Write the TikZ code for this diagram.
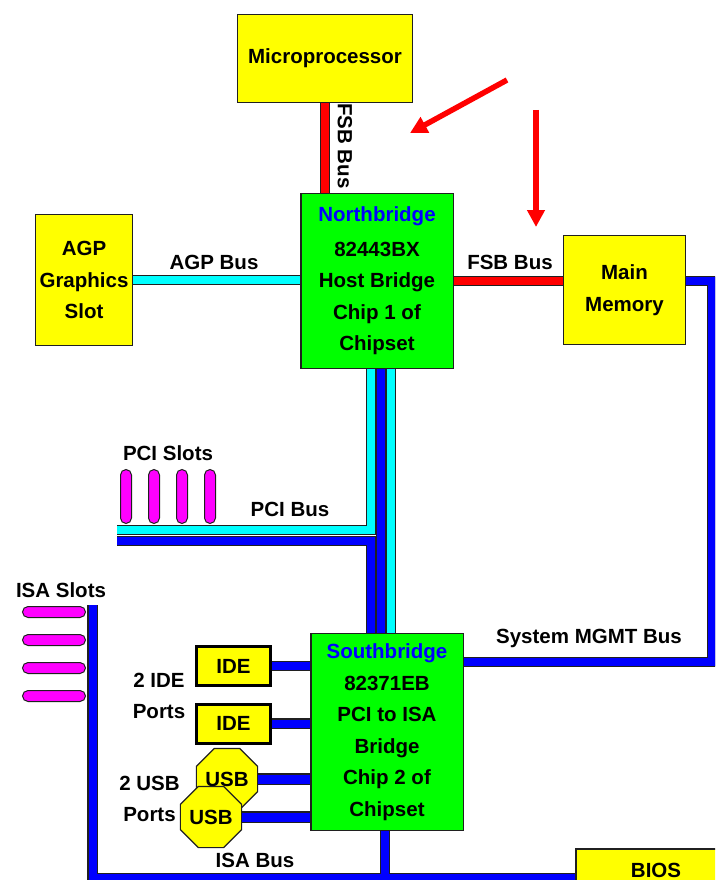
\documentclass[tikz,border=0pt]{standalone}
\usepackage{fontspec}
\setmainfont{Liberation Sans}
\usetikzlibrary{positioning,arrows.meta,shapes.geometric}
\definecolor{ChipGreen}{HTML}{00FF00}
\definecolor{PartYellow}{HTML}{FFFF00}
\definecolor{BusCyan}{HTML}{00FFFF}
\definecolor{BusBlue}{HTML}{0000FF}
\definecolor{BusRed}{HTML}{FF0000}
\definecolor{SlotPink}{HTML}{FF00FF}
\definecolor{Edge}{HTML}{202020}

\begin{document}
\begin{tikzpicture}[x=1pt,y=-1pt,
  every node/.style={align=center,font=\fontsize{20.5}{31.5}\selectfont\bfseries},
  part/.style={draw=Edge,line width=1.5pt,fill=PartYellow,inner sep=0pt},
  chip/.style={draw=Edge,line width=1.5pt,fill=ChipGreen,inner sep=0pt,minimum width=152.5pt},
  port/.style={draw=black,line width=3pt,fill=PartYellow,minimum width=74pt,minimum height=39pt,inner sep=0pt},
  usbport/.style={regular polygon,regular polygon sides=8,draw=Edge,line width=1.2pt,fill=PartYellow,minimum size=54pt,inner sep=0pt},
  bus/.style={draw=Edge,line width=1.2pt,double distance=8pt},
  pcislot/.style={draw=Edge,line width=1pt,fill=SlotPink,rounded corners=5.5pt,minimum width=11pt,minimum height=54pt,inner sep=0pt},
  isaslot/.style={draw=Edge,line width=1pt,fill=SlotPink,rounded corners=5.5pt,minimum width=63pt,minimum height=11pt,inner sep=0pt},
  hint/.style={BusRed,line width=5.5pt,-{Triangle[length=17pt,width=17pt]}}]
\useasboundingbox (0,0) rectangle (715,880);
\clip (0,0) rectangle (715,880);

\node[part,minimum width=175pt,minimum height=88pt] (cpu) at (325,58.5) {Microprocessor};
\node[chip,minimum height=175pt] (nb) at (377,281) {\textcolor{BusBlue}{Northbridge}\\[3pt]82443BX\\Host Bridge\\Chip 1 of\\Chipset};
\node[part,minimum width=97pt,minimum height=131pt] (agp) at (84,280) {AGP\\Graphics\\Slot};
\node[part,minimum width=122pt,minimum height=109pt] (mem) at (624.5,290) {Main\\Memory};
\node[chip,minimum height=197pt] (sb) at (387,732) {\textcolor{BusBlue}{Southbridge}\\82371EB\\PCI to ISA\\Bridge\\Chip 2 of\\Chipset};
\node[port] (ide1) at (233.5,666) {IDE};
\node[port,below=15.5pt of ide1] (ide2) {IDE};
\node[usbport] (usb1) at (227,779) {USB};
\node[usbport] (usb2) at (211,817) {USB};
\node[part,minimum width=160pt,minimum height=42pt] (bios) at (656,870) {BIOS};

\foreach \i/\x in {1/126,2/154,3/182,4/210}
  \node[pcislot] (pci\i) at (\x,496.5) {};
\foreach \i/\y in {1/612,2/640,3/668,4/696}
  \node[isaslot] (isa\i) at (54,\y) {};

\node[rotate=-90] (fsbv) at (345,146) {FSB Bus};
\node (fsbh) at (510,262) {FSB Bus};
\node (agpbus) at (214,262) {AGP Bus};
\node (pcislots) at (168,453) {PCI Slots};
\node (pcibus) at (290,509) {PCI Bus};
\node (isaslots) at (61,590) {ISA Slots};
\node (isabus) at (255,860) {ISA Bus};
\node (mgmtbus) at (589,638) {System MGMT Bus};
\node (ideports) at (159,696) {2 IDE\\Ports};
\node (usbports) at (149.5,799) {2 USB\\Ports};

\draw[bus,double=BusRed] (cpu.south) -- (cpu.south |- nb.north);
\draw[bus,double=BusCyan] (agp.east) -- (agp.east -| nb.west);
\draw[bus,double=BusRed] (nb.east) -- (nb.east -| mem.west);
\coordinate (mgmt) at (712,662);
\draw[bus,double=BusBlue] (mem.east |- nb.east) -| (mgmt) -- (mgmt -| sb.east);

\coordinate (pciA) at ([xshift=-6pt]nb.south);
\coordinate (pciB) at ([xshift=4pt]nb.south);
\coordinate (pciC) at ([xshift=14pt]nb.south);
\coordinate (pcileft) at (117,530);
\coordinate (pcilow) at (117,541);
\draw[bus,double=BusBlue] (pciB) -- (pciB |- sb.north);
\draw[bus,double=BusCyan] (pciC) -- (pciC |- sb.north);
\draw[bus,double=BusCyan] (pciA) |- (pcileft);
\draw[bus,double=BusBlue] (pcilow) -| (pciA |- sb.north);

\draw[bus,double=BusBlue] (ide1.east) -- (ide1.east -| sb.west);
\draw[bus,double=BusBlue] (ide2.east) -- (ide2.east -| sb.west);
\draw[bus,double=BusBlue,double distance=9pt] (usb1.east) -- (usb1.east -| sb.west);
\draw[bus,double=BusBlue,double distance=9pt] (usb2.east) -- (usb2.east -| sb.west);

\coordinate (isatop) at (92.5,605);
\coordinate (isacorner) at (92.5,878);
\coordinate (sbisa) at ([xshift=-2pt]sb.south);
\coordinate (isajoin) at (385,874);
\draw[bus,double=BusBlue] (isatop) -- (isacorner) -- (isacorner -| bios.west);
\draw[bus,double=BusBlue] (sbisa) -- (sbisa |- isajoin);

\coordinate (hint1s) at (507,80);
\coordinate (hint1e) at (410,133);
\coordinate (hint2s) at (536,110);
\coordinate (hint2e) at (536,227);
\draw[hint] (hint1s) -- (hint1e);
\draw[hint] (hint2s) -- (hint2e);
\end{tikzpicture}
\end{document}
